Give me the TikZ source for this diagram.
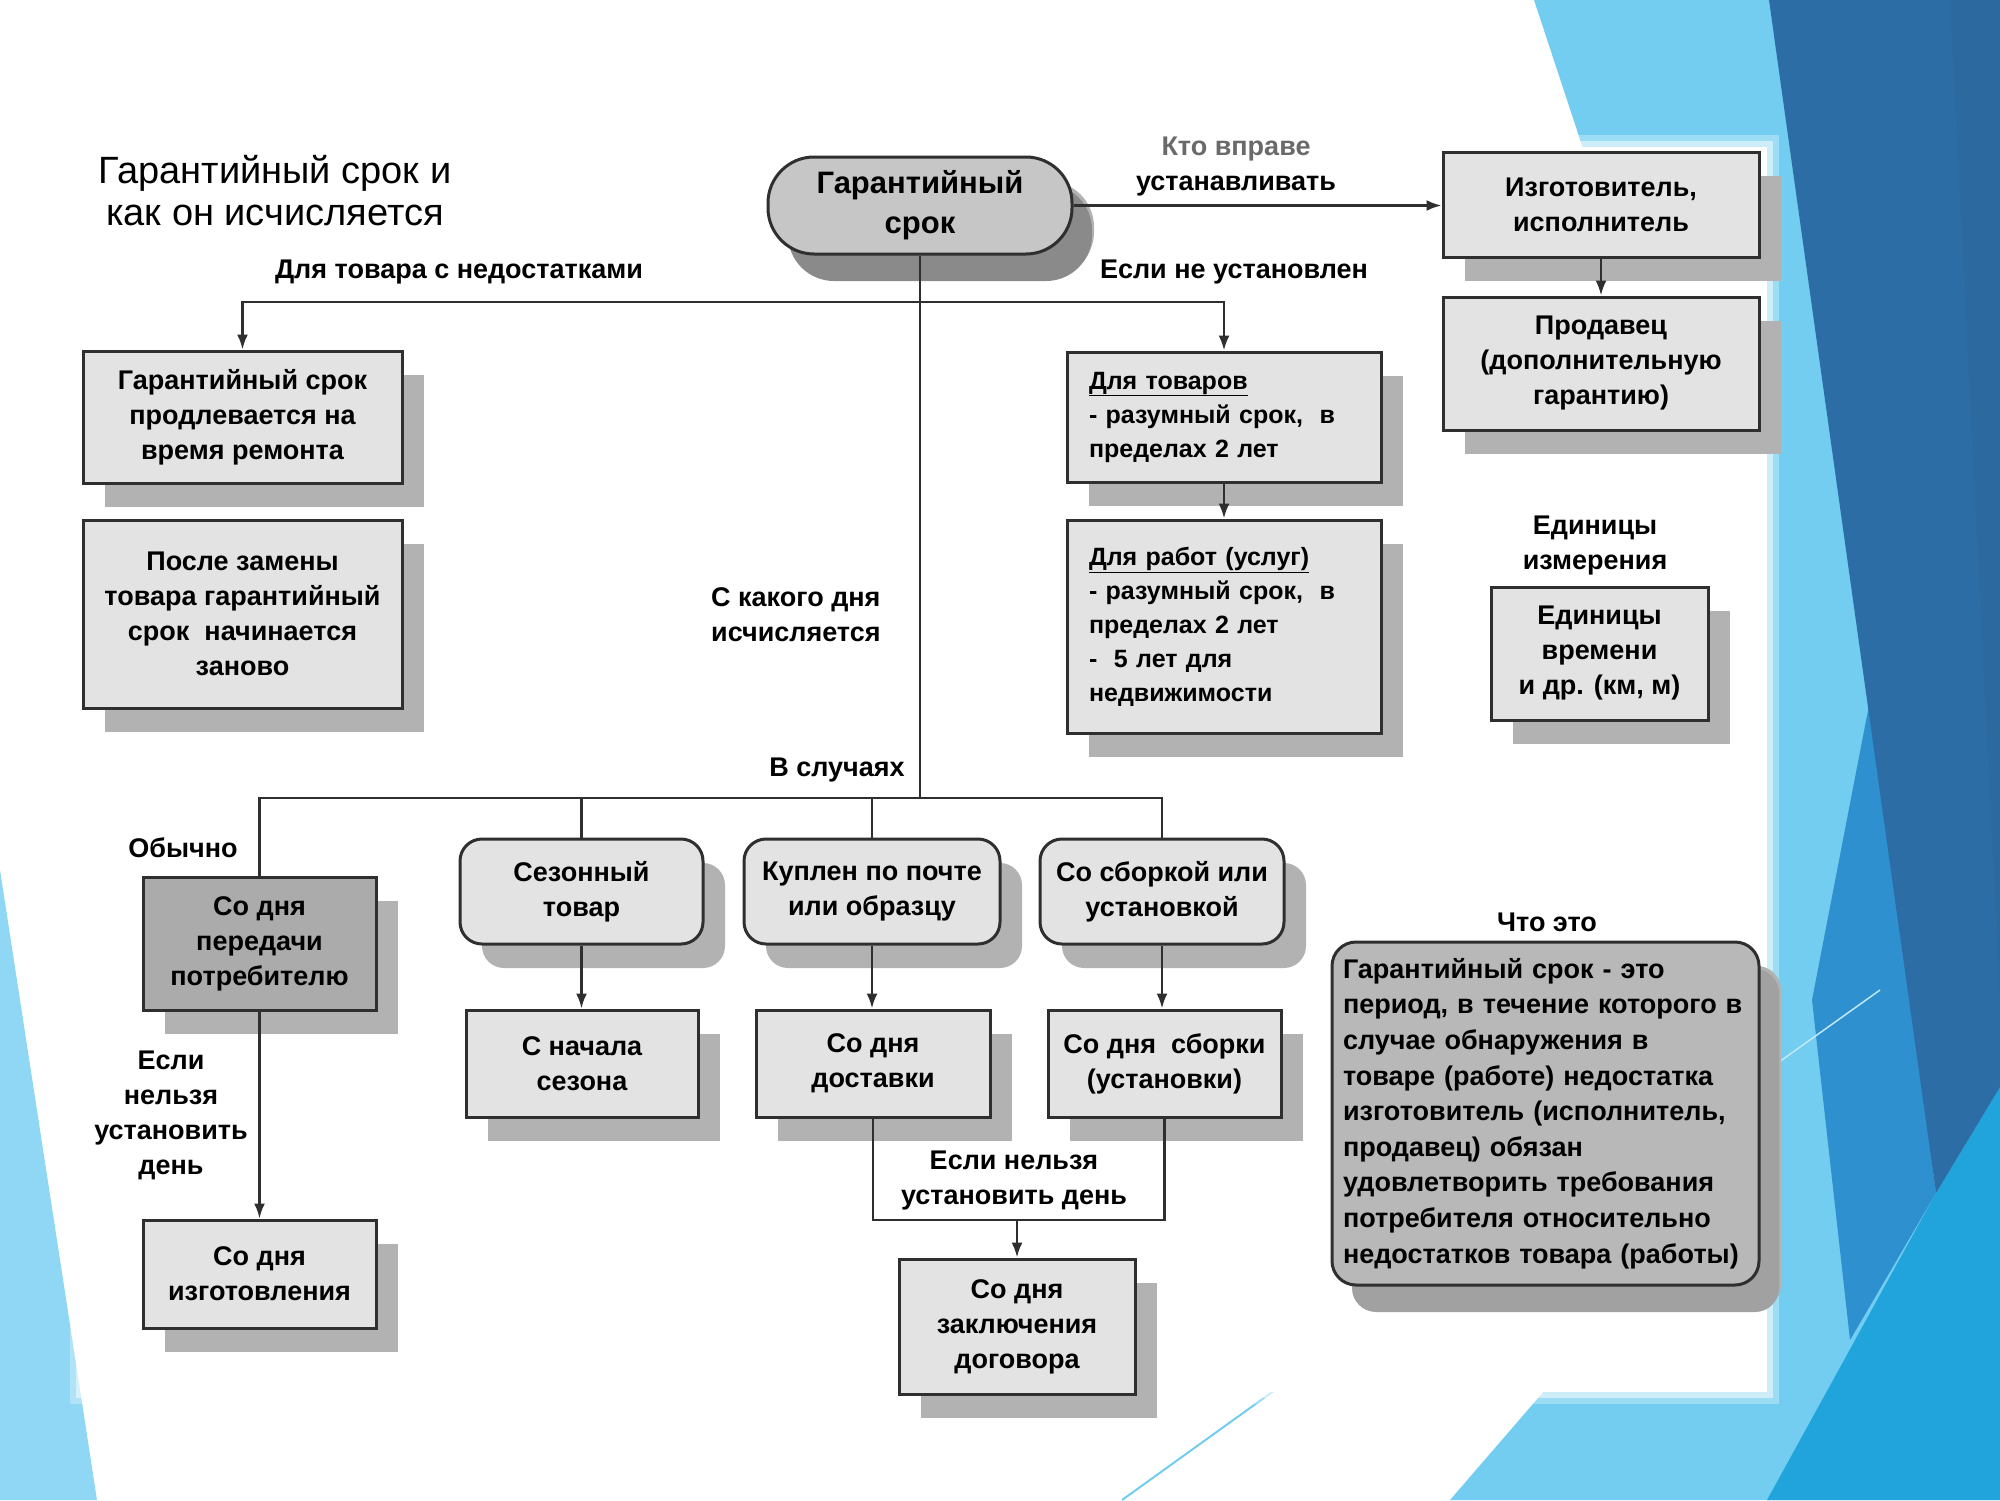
\documentclass[tikz,border=0pt]{standalone}
\usepackage{fontspec}
\setmainfont{Liberation Sans}
\usetikzlibrary{arrows.meta,shadows}
\definecolor{boxfill}{HTML}{E3E3E3}
\definecolor{darkfill}{HTML}{ABABAB}
\definecolor{mainfill}{HTML}{C6C6C6}
\definecolor{deffill}{HTML}{B8B8B8}
\definecolor{shadl}{HTML}{B2B2B2}
\definecolor{shadd}{HTML}{8A8A8A}
\definecolor{linec}{HTML}{2F2F2F}
\definecolor{lblue}{HTML}{72CDF0}
\definecolor{dblue}{HTML}{2D6DA5}
\definecolor{mblue}{HTML}{2F90D0}
\definecolor{bblue}{HTML}{21A3DC}
\definecolor{tblue}{HTML}{8FD7F4}
\definecolor{greytxt}{HTML}{6A6A6A}
\newcommand\bxf{\bfseries\fontsize{27}{35}\selectfont}
\newcommand\bxs{\bfseries\fontsize{25}{34}\selectfont}
\begin{document}
\begin{tikzpicture}[x=1pt,y=-1pt,
  box/.style={draw=linec, line width=3pt, fill=boxfill, inner sep=0pt, align=center, font=\bxf,
     general shadow={fill=shadl, shadow xshift=22pt, shadow yshift=-24pt}},
  rbox/.style={box, rounded corners=22pt},
  lbl/.style={font=\bxf, align=center, inner sep=0pt, text=black},
  line/.style={draw=linec, line width=2.5pt},
  arr/.style={line, -{Latex[length=15pt,width=11pt]}},
]
\useasboundingbox (0,0) rectangle (2000,1500);
% background
\fill[white] (0,0) rectangle (2000,1500);
\fill[lblue] (1534,0) -- (2000,0) -- (2000,1500) -- (1450,1500) -- (1640,1280) -- (1600,200) -- cycle;
\fill[mblue] (1870,700) -- (1936,1193) -- (1850,1340) -- (1812,1000) -- cycle;
\fill[bblue] (1936,1193) -- (2000,1087) -- (2000,1500) -- (1767,1500) -- cycle;
\fill[dblue] (1769,0) -- (2000,0) -- (2000,1087) -- (1936,1193) -- cycle;
\fill[dblue!90!black, opacity=0.35] (1950,0) -- (2000,0) -- (2000,1000) -- cycle;
\draw[white!55!lblue, line width=1.5pt] (1765,1072) -- (1880,990);
\fill[tblue] (0,870) -- (97,1500) -- (0,1500) -- cycle;
\draw[lblue, line width=2pt] (1122,1500) -- (1275,1390);
\fill[white, opacity=0.3] (70,135) rectangle (1779,1404);
\fill[white, opacity=0.5] (76,141) rectangle (1773,1398);
\fill[white] (82,147) rectangle (1767,1392);

% title
\node[font=\fontsize{38}{42}\selectfont, align=center, inner sep=0pt] (title) at (275,191)
  {Гарантийный срок и\\как он исчисляется};

% main node
\node[box, fill=mainfill, rounded corners=46pt, minimum width=304pt, minimum height=97pt,
  font=\bfseries\fontsize{31}{40}\selectfont,
  general shadow={fill=shadd, shadow xshift=20pt, shadow yshift=-27pt}] (main) at (920,205.5)
  {Гарантийный\\срок};

% right top
\node[box, minimum width=316pt, minimum height=105pt] (izg) at (1601,204.5) {Изготовитель,\\исполнитель};
\node[box, minimum width=316pt, minimum height=133pt] (prod) at (1601,363.5) {Продавец\\(дополнительную\\гарантию)};

% left boxes
\node[box, minimum width=319pt, minimum height=132pt] (b1) at (242.5,417) {Гарантийный срок\\продлевается на\\время ремонта};
\node[box, minimum width=319pt, minimum height=188pt] (b2) at (242.5,614) {После замены\\товара гарантийный\\срок~ начинается\\заново};

% middle-right boxes
\node[box, minimum width=314pt, minimum height=130pt, text width=270pt, align=left, font=\bxs] (tov) at (1224,417)
  {\underline{Для товаров}\\- разумный срок,~ в\\пределах 2 лет};
\node[box, minimum width=314pt, minimum height=213pt, text width=270pt, align=left, font=\bxs] (rab) at (1224,626.5)
  {\underline{Для работ (услуг)}\\- разумный срок,~ в\\пределах 2 лет\\-~ 5 лет для\\недвижимости};

\node[box, minimum width=217pt, minimum height=133pt] (edin) at (1599.5,653.5) {Единицы\\времени\\и др. (км, м)};

% lower row
\node[box, fill=darkfill, minimum width=233pt, minimum height=133pt] (k1) at (259.5,943.5) {Со дня\\передачи\\потребителю};
\node[box, minimum width=233pt, minimum height=108pt] (k2) at (259.5,1274) {Со дня\\изготовления};

\node[rbox, minimum width=243pt, minimum height=105pt] (s1) at (581.5,891.5) {Сезонный\\товар};
\node[rbox, minimum width=256pt, minimum height=105pt] (s2) at (872,891.5) {Куплен по почте\\или образцу};
\node[rbox, minimum width=244pt, minimum height=105pt] (s3) at (1162,891.5) {Со сборкой или\\установкой};

\node[box, minimum width=232pt, minimum height=107pt] (d1) at (582,1063.5) {С начала\\сезона};
\node[box, minimum width=234pt, minimum height=107pt] (d2) at (873,1063.5) {Со дня\\доставки};
\node[box, minimum width=233pt, minimum height=107pt] (d3) at (1164.5,1063.5) {Со дня~ сборки\\(установки)};

\node[box, minimum width=236pt, minimum height=135pt] (dog) at (1017,1326.5) {Со дня\\заключения\\договора};

\node[box, fill=deffill, rounded corners=24pt, minimum width=427pt, minimum height=343pt,
  text width=405pt, align=left, font=\bfseries\fontsize{27}{35.6}\selectfont,
  general shadow={fill=shadd!80!white, shadow xshift=20pt, shadow yshift=-27pt}] (def) at (1545.5,1113.5)
  {Гарантийный срок - это\\период, в течение которого в\\случае обнаружения в\\товаре (работе) недостатка\\изготовитель (исполнитель,\\продавец) обязан\\удовлетворить требования\\потребителя относительно\\недостатков товара (работы)};

% labels
\node[lbl] (lkto) at (1236,167) {\textcolor{greytxt}{Кто вправе}\\устанавливать};
\node[lbl] (lned) at (459,272) {Для товара с недостатками};
\node[lbl] (lneu) at (1234,272) {Если не установлен};
\node[lbl, align=left, anchor=west] (lkak) at (711,615) {С какого дня\\исчисляется};
\node[lbl] (lvsl) at (837,770) {В случаях};
\node[lbl] (loby) at (183,848) {Обычно};
\node[lbl] (ledi) at (1595,546) {Единицы\\измерения};
\node[lbl] (les1) at (171,1115) {Если\\нельзя\\установить\\день};
\node[lbl] (les2) at (1014,1180) {Если нельзя\\установить день};
\node[lbl] (lcht) at (1547,922) {Что это};

% connectors
\coordinate (h1) at (920,302);
\coordinate (trunk) at (920,798);
\coordinate (jn) at (1017,1220);
\draw[arr] (main.east) -- (main.east -| izg.west);
\draw[arr] (izg) -- (prod);
\draw[line] (main.south) -- (trunk);
\draw[arr] (h1) -| (b1.north);
\draw[arr] (h1) -| (tov.north);
\draw[arr] (tov) -- (rab);
\draw[line] (trunk) -| (k1.north);
\draw[line] (trunk) -| (s1.north);
\draw[line] (trunk) -| (s2.north);
\draw[line] (trunk) -| (s3.north);
\draw[arr] (k1) -- (k2);
\draw[arr] (s1.south) -- (s1.south |- d1.north);
\draw[arr] (s2.south) -- (s2.south |- d2.north);
\draw[arr] (s3.south) -- (s3.south |- d3.north);
\draw[line] (d2.south) |- (jn) -| (d3.south);
\draw[arr] (jn) -- (jn |- dog.north);
\end{tikzpicture}
\end{document}
